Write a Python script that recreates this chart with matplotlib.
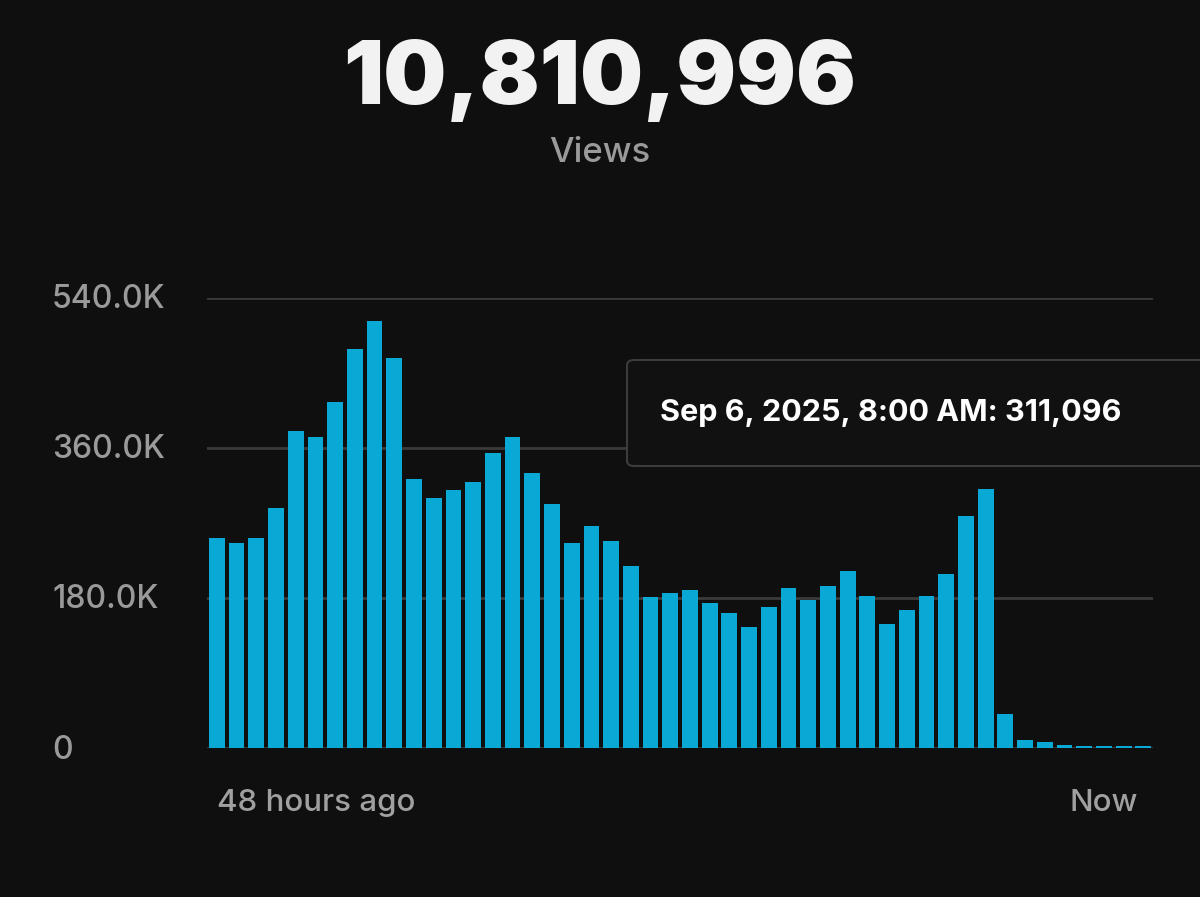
import matplotlib
matplotlib.use("Agg")
import matplotlib.pyplot as plt
from matplotlib.patches import FancyBboxPatch

plt.rcParams['font.family'] = ['Inter', 'DejaVu Sans']

values = [252, 246, 252, 288, 380, 373, 415, 479, 512, 468, 323, 300, 310, 319, 354, 373,
          330, 293, 246, 266, 248, 218, 181, 186, 190, 174, 162, 145, 169, 192, 178, 194,
          212, 182, 149, 166, 182, 209, 278, 311, 41, 10, 7, 4, 3, 3, 3, 2]
values = [v * 1000 for v in values]
yticks = [0, 180000, 360000, 540000]
ytick_labels = ["0", "180.0K", "360.0K", "540.0K"]
total = "10,810,996"
tooltip = "Sep 6, 2025, 8:00 AM: 311,096"

bg = "#0f0f0f"
fig = plt.figure(figsize=(12, 8.97), dpi=100, facecolor=bg)
ax = fig.add_axes([0.1725, 0.166, 0.7885, 0.502], facecolor=bg)
x = list(range(len(values)))
ax.bar(x, values, width=0.8, color="#0aa8d4", zorder=3)
ax.set_xlim(-0.5, len(values) - 0.5)
ax.set_ylim(0, 540000)
for t in yticks:
    ax.axhline(t, color="#3a3a3a", lw=2, zorder=1)
for s in ax.spines.values():
    s.set_visible(False)
ax.set_xticks([]); ax.set_yticks([])

for t, l in zip(yticks, ytick_labels):
    yy = 0.166 + 0.502 * t / 540000
    fig.text(52/1200, yy - 2/897, l, color="#9a9a9a", fontsize=23, fontweight="medium", ha="left", va="center")

fig.text(0.5, 1 - 80/897, total, color="#f2f2f2", fontsize=64, fontweight="black", ha="center", va="center")
fig.text(0.5, 1 - 153/897, "Views", color="#9a9a9a", fontsize=25, fontweight="medium", ha="center", va="center")
fig.text(217/1200, 1 - 803/897, "48 hours ago", color="#a0a0a0", fontsize=22.5, fontweight="medium", ha="left", va="center")
fig.text(1138/1200, 1 - 803/897, "Now", color="#a0a0a0", fontsize=22.5, fontweight="medium", ha="right", va="center")

box = FancyBboxPatch((627/1200, 1 - 466/897), 0.6, 106/897, boxstyle="round,pad=0,rounding_size=0.006",
                     transform=fig.transFigure, facecolor="#111111", edgecolor="#3c3c3c", lw=1.5, zorder=5)
fig.patches.append(box)
fig.text(660/1200, 1 - 413/897, tooltip, color="white", fontsize=22, fontweight="bold",
         ha="left", va="center", zorder=6)

fig.savefig("out.png", facecolor=bg)
